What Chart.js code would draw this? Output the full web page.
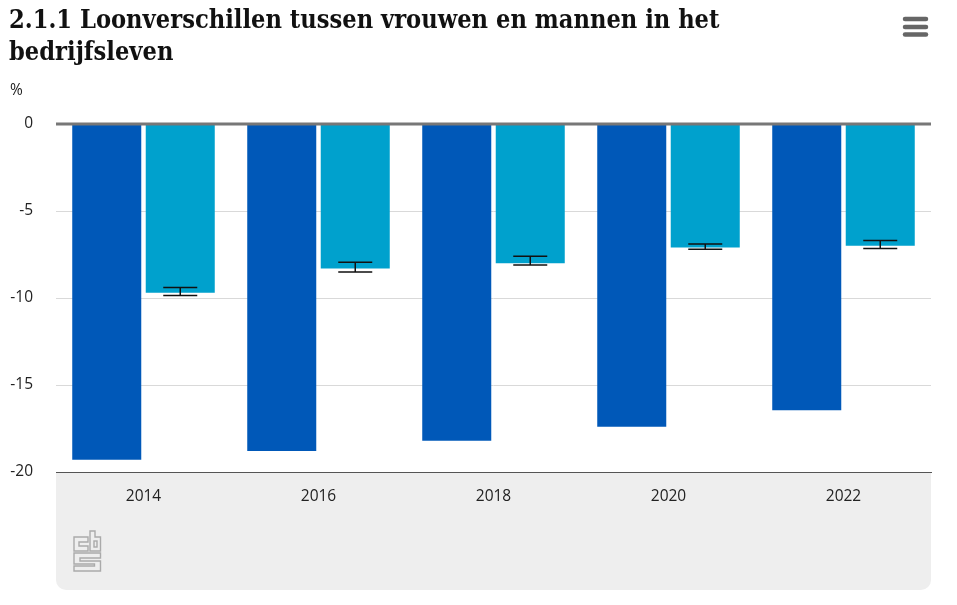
<!DOCTYPE html>
<html>
<head>
<meta charset="utf-8">
<style>
html, body { margin: 0; padding: 0; background: #fff; }
canvas { display: block; }
</style>
<script src="https://cdn.jsdelivr.net/npm/chart.js@4"></script>
</head>
<body>
<canvas id="loonChart" width="957" height="605"></canvas>
<script>
const years = ['2014', '2016', '2018', '2020', '2022'];
const ongecorrigeerd = [-19.3, -18.8, -18.2, -17.4, -16.45];
const gecorrigeerd = [-9.7, -8.3, -8.0, -7.1, -7.0];
const errorHigh = [-9.4, -7.95, -7.6, -6.9, -6.7];
const errorLow = [-9.85, -8.5, -8.1, -7.2, -7.15];
const titleLines = ['2.1.1 Loonverschillen tussen vrouwen en mannen in het', 'bedrijfsleven'];

const labelFont = '"Open Sans", sans-serif';

// grijs vlak onder de as
const footerPanel = {
    id: 'footerPanel',
    beforeDraw(chart) {
        const c = chart.ctx, a = chart.chartArea;
        c.save();
        c.fillStyle = '#eeeeee';
        c.beginPath();
        c.roundRect(a.left, a.bottom, a.right - a.left, 118, [0, 0, 10, 10]);
        c.fill();
        c.restore();
    }
};

function outline(c, pts) {
    c.beginPath();
    pts.forEach((p, i) => i ? c.lineTo(p[0], p[1]) : c.moveTo(p[0], p[1]));
    c.closePath();
    c.stroke();
}

// nullijn, foutmarges, logo en menu
const extras = {
    id: 'extras',
    afterDatasetsDraw(chart) {
        const c = chart.ctx, a = chart.chartArea, y = chart.scales.y;
        c.save();
        c.strokeStyle = '#777';
        c.lineWidth = 3;
        c.beginPath();
        c.moveTo(a.left, y.getPixelForValue(0));
        c.lineTo(a.right, y.getPixelForValue(0));
        c.stroke();

        c.strokeStyle = '#111';
        c.lineWidth = 1.5;
        chart.getDatasetMeta(1).data.forEach((bar, i) => {
            const hi = y.getPixelForValue(errorHigh[i]), lo = y.getPixelForValue(errorLow[i]);
            c.beginPath();
            c.moveTo(bar.x, hi); c.lineTo(bar.x, lo);
            c.moveTo(bar.x - 17, hi); c.lineTo(bar.x + 17, hi);
            c.moveTo(bar.x - 17, lo); c.lineTo(bar.x + 17, lo);
            c.stroke();
        });

        // hamburger
        c.strokeStyle = '#666';
        c.lineWidth = 4.5;
        c.lineCap = 'round';
        [19, 27, 34.5].forEach(h => {
            c.beginPath();
            c.moveTo(905, h); c.lineTo(926, h);
            c.stroke();
        });

        // cbs
        c.strokeStyle = '#aaa';
        c.lineWidth = 1.4;
        c.lineCap = 'butt';
        outline(c, [[74, 537], [88, 537], [88, 542], [79, 542], [79, 546], [88, 546], [88, 551], [74, 551]]);
        outline(c, [[90, 531], [95, 531], [95, 537], [100.5, 537], [100.5, 551], [90, 551]]);
        c.strokeRect(94, 541, 3, 6);
        outline(c, [[74, 553], [100.5, 553], [100.5, 558], [80, 558], [80, 561], [100.5, 561], [100.5, 571],
            [74, 571], [74, 566], [94.5, 566], [94.5, 564], [74, 564]]);

        c.fillStyle = '#222';
        c.font = '15.5px ' + labelFont;
        c.textAlign = 'left';
        c.textBaseline = 'middle';
        c.fillText('%', 10, 91);
        c.restore();
    }
};

new Chart(document.getElementById('loonChart').getContext('2d'), {
    type: 'bar',
    data: {
        labels: years,
        datasets: [
            { label: 'Ongecorrigeerd', data: ongecorrigeerd, backgroundColor: '#0058b8' },
            { label: 'Gecorrigeerd', data: gecorrigeerd, backgroundColor: '#00a1cd' }
        ]
    },
    options: {
        responsive: false,
        animation: false,
        categoryPercentage: 0.84,
        barPercentage: 0.939,
        layout: { padding: { top: 0, right: 26, bottom: 15, left: 9 } },
        plugins: {
            legend: { display: false },
            tooltip: { enabled: false },
            title: {
                display: true,
                text: titleLines,
                align: 'start',
                color: '#111',
                font: { family: '"DejaVu Serif Condensed", "DejaVu Serif", serif', size: 25.2, weight: 'bold', lineHeight: 1.27 },
                padding: { top: 5, bottom: 55 }
            }
        },
        scales: {
            x: {
                afterFit(s) { s.height = 118; },
                grid: { display: false },
                border: { display: true, color: '#555', width: 1 },
                ticks: { color: '#222', font: { family: labelFont, size: 15.5 }, padding: 7, maxRotation: 0 }
            },
            y: {
                min: -20,
                max: 0,
                afterFit(s) { s.width = 47; },
                grid: {
                    drawTicks: false,
                    color: ctx => ctx.tick.value === -20 ? '#555' : '#d9d9d9'
                },
                border: { display: false },
                ticks: { stepSize: 5, color: '#222', font: { family: labelFont, size: 15.5 }, padding: 23 }
            }
        }
    },
    plugins: [footerPanel, extras]
});
</script>
</body>
</html>
